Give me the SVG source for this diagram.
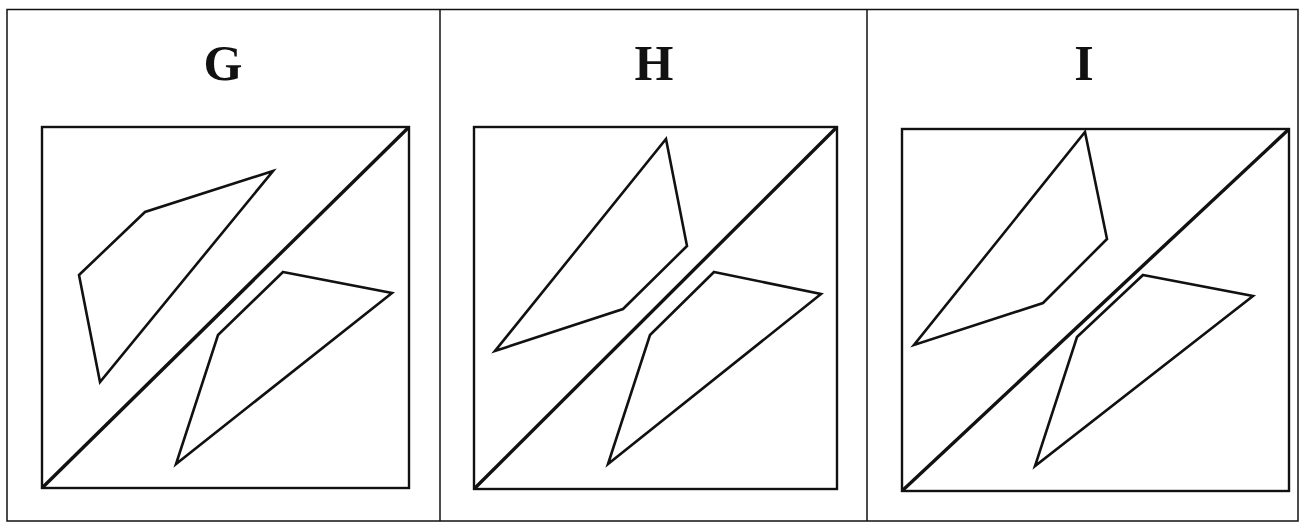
<svg xmlns="http://www.w3.org/2000/svg" width="1304" height="523" viewBox="0 0 1304 523">
<style>
.frame{fill:none;stroke:#111;stroke-width:1.5}
.sq{fill:none;stroke:#111;stroke-width:2.4}
.diag{fill:none;stroke:#111;stroke-width:3.4}
.poly{fill:none;stroke:#111;stroke-width:2.6;stroke-linejoin:miter}
.lbl{font-family:"Liberation Serif","Times New Roman",serif;font-weight:bold;font-size:50px;fill:#111;text-anchor:middle}
</style>
<rect width="1304" height="523" fill="#fff"/>
<g id="frame">
<rect class="frame" x="7" y="9.5" width="1291" height="511.5"/>
<line class="frame" x1="440" y1="9.5" x2="440" y2="521"/>
<line class="frame" x1="867" y1="9.5" x2="867" y2="521"/>
</g>
<g id="panel-G">
<text class="lbl" x="223" y="80">G</text>
<rect class="sq" x="42" y="127" width="367" height="361"/>
<line class="diag" x1="43" y1="487" x2="408" y2="128"/>
<polygon class="poly" points="273,171 145,212 79,275 100,382"/>
<polygon class="poly" points="283,272 392,293 176,464 218,335"/>
</g>
<g id="panel-H">
<text class="lbl" x="654" y="80">H</text>
<rect class="sq" x="474" y="127" width="363" height="362"/>
<line class="diag" x1="475" y1="488" x2="836" y2="128"/>
<polygon class="poly" points="666,139 687,246 623,309 495,351"/>
<polygon class="poly" points="714,272 821,294 608,464 650,335"/>
</g>
<g id="panel-I">
<text class="lbl" x="1084" y="80">I</text>
<rect class="sq" x="902" y="129" width="387" height="362"/>
<line class="diag" x1="903" y1="490" x2="1288" y2="130"/>
<polygon class="poly" points="1085,132 1107,239 1043,303 914,345"/>
<polygon class="poly" points="1143,275 1253,296 1035,466 1077,337"/>
</g>
</svg>
